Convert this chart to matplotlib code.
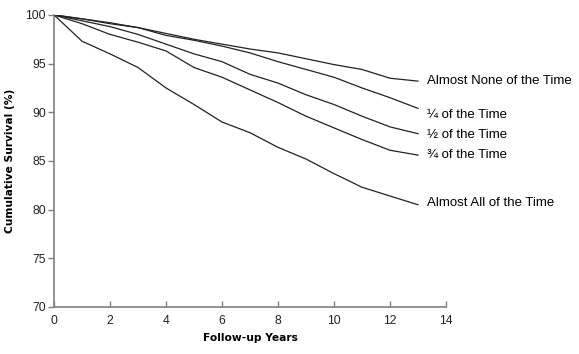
import numpy as np
import matplotlib
matplotlib.use('Agg')
import matplotlib.pyplot as plt

# follow-up years and cumulative survival (%) per group
years = [0, 1, 2, 3, 4, 5, 6, 7, 8, 9, 10, 11, 12, 13]
none_time = [100, 99.6, 99.1, 98.7, 98.1, 97.5, 97.0, 96.5, 96.1, 95.5, 94.9, 94.4, 93.5, 93.2]
quarter_time = [100, 99.6, 99.2, 98.7, 97.9, 97.4, 96.8, 96.1, 95.2, 94.4, 93.6, 92.5, 91.5, 90.4]
half_time = [100, 99.4, 98.8, 98.0, 97.0, 96.0, 95.2, 93.9, 93.0, 91.8, 90.8, 89.6, 88.5, 87.8]
three_quarter_time = [100, 99.1, 98.0, 97.2, 96.3, 94.6, 93.6, 92.3, 91.0, 89.6, 88.4, 87.2, 86.1, 85.6]
all_time = [100, 97.3, 96.0, 94.6, 92.5, 90.8, 89.0, 87.9, 86.4, 85.2, 83.7, 82.3, 81.4, 80.5]

series = [none_time, quarter_time, half_time, three_quarter_time, all_time]
labels = ['Almost None of the Time', '\u00bc of the Time', '\u00bd of the Time',
          '\u00be of the Time', 'Almost All of the Time']
label_y = [93.2, 89.7, 87.7, 85.6, 80.7]

fig = plt.figure(figsize=(5.79, 3.54), dpi=100)
ax = fig.add_axes([0.0933, 0.1328, 0.677, 0.825])

for s in series:
    ax.plot(years, s, color='#222222', lw=0.9)

for txt, y in zip(labels, label_y):
    ax.text(13.32, y, txt, fontsize=9.5, family='Liberation Sans',
            va='center', ha='left', color='black', clip_on=False)

ax.set_xlim(0, 14)
ax.set_ylim(70, 100)
ax.set_xticks(range(0, 15, 2))
ax.set_yticks(range(70, 101, 5))
for sp in ['top', 'right']:
    ax.spines[sp].set_visible(False)
for sp in ['left', 'bottom']:
    ax.spines[sp].set_color('#808080')
    ax.spines[sp].set_linewidth(1.2)
ax.tick_params(axis='both', colors='#808080', length=4, width=1, labelsize=8.7,
               labelcolor='#222222', direction='out')
ax.tick_params(axis='y', pad=2)
ax.tick_params(axis='x', direction='in', pad=6)
for lab in ax.get_xticklabels() + ax.get_yticklabels():
    lab.set_family('Liberation Sans')

ax.set_xlabel('Follow-up Years', fontsize=7.7, fontweight='bold', labelpad=4)
ax.set_ylabel('Cumulative Survival (%)', fontsize=7.7, fontweight='bold', labelpad=7)

plt.savefig('out.png', dpi=100)
